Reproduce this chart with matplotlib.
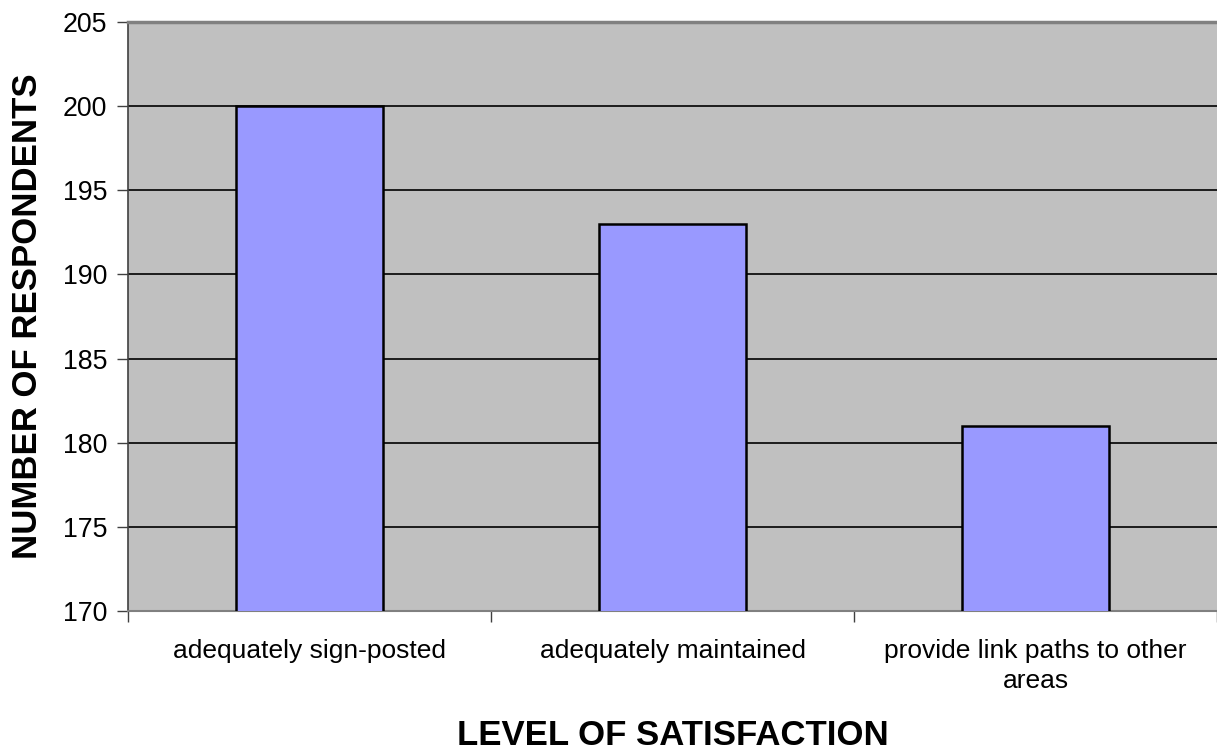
import numpy as np
import matplotlib.pyplot as plt

# Data
categories = ["adequately sign-posted", "adequately maintained",
              "provide link paths to other\nareas"]
respondents = [200, 193, 181]
y_ticks = [170, 175, 180, 185, 190, 195, 200, 205]

plt.rcParams["font.family"] = ["Liberation Sans", "DejaVu Sans"]

W, H = 1217, 752
fig = plt.figure(figsize=(W / 100, H / 100), dpi=100)
ax = fig.add_axes([128 / W, 1 - 611 / H, 1 - 128 / W, (611 - 22) / H])
ax.set_facecolor("#C0C0C0")

x = np.arange(len(categories))
ax.bar(x, respondents, width=0.405, color="#9999FF",
       edgecolor="black", linewidth=1.8, zorder=3)

ax.set_ylim(170, 205)
ax.set_xlim(-0.5, len(categories) - 0.5)
ax.set_yticks(y_ticks)
ax.set_yticklabels([str(t) for t in y_ticks], fontsize=19.3)

# horizontal gridlines (black) except at the top edge
for t in y_ticks[1:-1]:
    ax.axhline(t, color="black", linewidth=1.2, zorder=1)

# category labels centered, ticks at category boundaries
ax.set_xticks(x)
ax.set_xticklabels(categories, fontsize=19, linespacing=1.3)
ax.tick_params(axis="x", length=0, pad=20.5)
ax.set_xticks(np.arange(len(categories) + 1) - 0.5, minor=True)
ax.tick_params(axis="x", which="minor", length=8, color="#404040", width=1)
ax.tick_params(axis="y", length=8, color="#404040", width=1, pad=7)

ax.spines["top"].set_color("#808080")
ax.spines["top"].set_linewidth(2.5)
ax.spines["right"].set_visible(False)
ax.spines["left"].set_color("#404040")
ax.spines["left"].set_linewidth(1.2)
ax.spines["bottom"].set_color("#808080")
ax.spines["bottom"].set_linewidth(1.5)

# axis titles placed like the original chart
fig.text((128 + W) / 2 / W, 1 - 745 / H, "LEVEL OF SATISFACTION",
         fontsize=25, fontweight="bold", ha="center", va="baseline")
fig.text(28 / W, 1 - 316 / H, "NUMBER OF RESPONDENTS",
         fontsize=25, fontweight="bold", rotation=90, ha="center", va="center")

fig.savefig("out.png", dpi=100)
